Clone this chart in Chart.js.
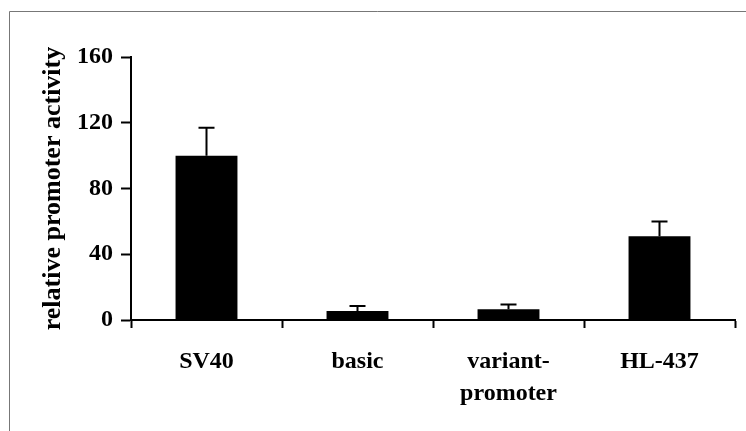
<!DOCTYPE html>
<html>
<head>
<meta charset="utf-8">
<script src="https://cdn.jsdelivr.net/npm/chart.js@4/dist/chart.umd.min.js"></script>
<style>
    html, body { margin: 0; padding: 0; background: #fff; }
    #wrap { position: relative; width: 746px; height: 431px; }
</style>
</head>
<body>
<div id="wrap"><canvas id="promoterChart" width="746" height="431"></canvas></div>
<script>
// Data
const categories = ['SV40', 'basic', ['variant-', 'promoter'], 'HL-437'];
const activity = [100, 5.5, 6.5, 51];
const errors = [17, 3, 3, 9];
const yTicks = [0, 40, 80, 120, 160];

const serif = "'Liberation Serif', 'Times New Roman', serif";

// frame round the figure
const framePlugin = {
    id: 'frame',
    beforeDraw(chart) {
        const ctx = chart.ctx;
        ctx.save();
        ctx.strokeStyle = '#777';
        ctx.lineWidth = 1;
        ctx.beginPath();
        ctx.moveTo(9.5, 431);
        ctx.lineTo(9.5, 11.5);
        ctx.lineTo(746, 11.5);
        ctx.stroke();
        ctx.restore();
    }
};

// error bars (upper only)
const errorBarPlugin = {
    id: 'errorBars',
    afterDatasetsDraw(chart) {
        const ctx = chart.ctx;
        const meta = chart.getDatasetMeta(0);
        const yScale = chart.scales.y;
        ctx.save();
        ctx.strokeStyle = '#000';
        ctx.lineWidth = 2;
        meta.data.forEach((bar, i) => {
            const x = bar.x;
            const yTop = yScale.getPixelForValue(activity[i] + errors[i]);
            ctx.beginPath();
            ctx.moveTo(x, bar.y);
            ctx.lineTo(x, yTop);
            ctx.moveTo(x - 8, yTop);
            ctx.lineTo(x + 8, yTop);
            ctx.stroke();
        });
        ctx.restore();
    }
};

const ctx = document.getElementById('promoterChart').getContext('2d');
new Chart(ctx, {
    type: 'bar',
    data: {
        labels: categories,
        datasets: [{
            data: activity,
            backgroundColor: '#000',
            borderWidth: 0,
            categoryPercentage: 1,
            barPercentage: 0.41
        }]
    },
    options: {
        responsive: false,
        animation: false,
        devicePixelRatio: 1,
        layout: {
            padding: { top: 57, right: 11, bottom: 0, left: 0 }
        },
        plugins: {
            legend: { display: false },
            tooltip: { enabled: false }
        },
        scales: {
            x: {
                grid: {
                    offset: true,
                    drawOnChartArea: false,
                    drawTicks: true,
                    tickLength: 8,
                    tickWidth: 2,
                    color: '#000'
                },
                border: { color: '#000', width: 2 },
                ticks: {
                    color: '#000',
                    padding: 18,
                    maxRotation: 0,
                    font: { family: serif, size: 24, weight: 'bold', lineHeight: 1.33 }
                },
                afterFit: s => { s.height = 111; }
            },
            y: {
                min: 0,
                max: 160,
                afterBuildTicks: s => { s.ticks = yTicks.map(v => ({ value: v })); },
                grid: {
                    drawOnChartArea: false,
                    drawTicks: true,
                    tickLength: 10,
                    tickWidth: 2,
                    color: '#000'
                },
                border: { color: '#000', width: 2 },
                ticks: {
                    color: '#000',
                    padding: 8,
                    font: { family: serif, size: 24, weight: 'bold' }
                },
                title: {
                    display: true,
                    text: 'relative promoter activity',
                    color: '#000',
                    padding: { top: 38, bottom: 0 },
                    font: { family: serif, size: 26, weight: 'bold' }
                },
                afterFit: s => { s.width = 131; }
            }
        }
    },
    plugins: [framePlugin, errorBarPlugin]
});
</script>
</body>
</html>
